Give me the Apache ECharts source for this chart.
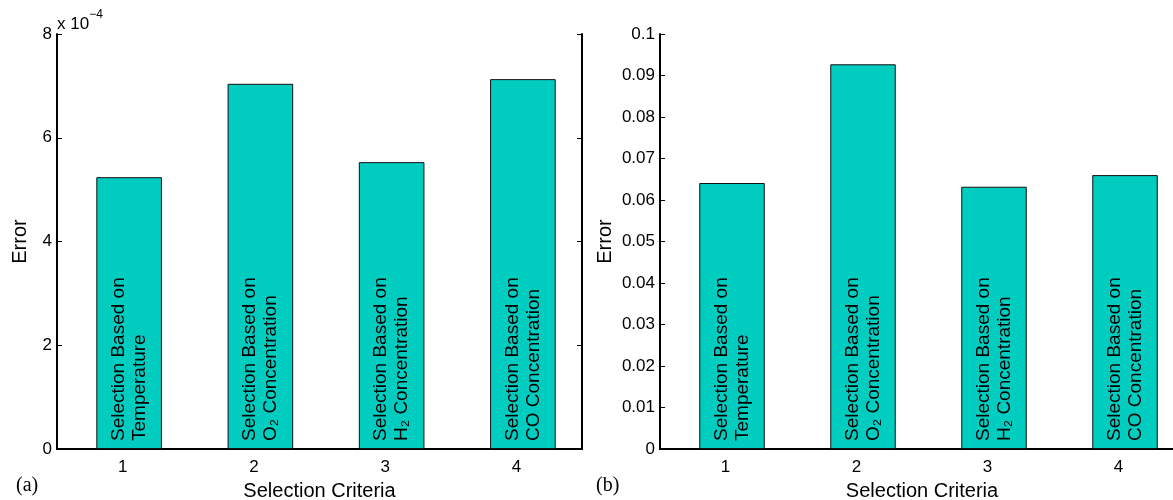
<!DOCTYPE html>
<html>
<head>
<meta charset="utf-8">
<script src="https://cdn.jsdelivr.net/npm/echarts@6/dist/echarts.min.js"></script>
<style>html,body{margin:0;padding:0;background:#fff}#c{width:1173px;height:500px}</style>
</head>
<body>
<div id="c"></div>
<script>
const categories = ['1', '2', '3', '4'];
const barLabels = [
  'Selection Based on\nTemperature',
  'Selection Based on\nO\u2082 Concentration',
  'Selection Based on\nH\u2082 Concentration',
  'Selection Based on\nCO Concentration'
];
const errorA = [5.24e-4, 7.04e-4, 5.53e-4, 7.13e-4];
const errorB = [0.0641, 0.0927, 0.0632, 0.0660];
const yTicksA = [0, 2e-4, 4e-4, 6e-4, 8e-4];
const yTicksB = [0, 0.01, 0.02, 0.03, 0.04, 0.05, 0.06, 0.07, 0.08, 0.09, 0.1];

const FONT = 'Liberation Sans, Arial, sans-serif';
const BAR = '#00ccc0';
const lineStyle = {color: '#000', width: 2};
const tickStyle = {color: '#000', width: 1};

function xAxes(gi) {
  return [
    {
      gridIndex: gi, type: 'category', position: 'bottom', data: categories,
      axisLine: {lineStyle},
      axisTick: {inside: true, alignWithLabel: true, length: 5, lineStyle: tickStyle},
      axisLabel: {color: '#000', fontSize: 17, fontFamily: FONT, margin: 10},
      name: 'Selection Criteria', nameLocation: 'middle', nameGap: 32,
      nameTextStyle: {color: '#000', fontSize: 20, fontFamily: FONT}
    },
    {
      gridIndex: gi, type: 'category', position: 'top', data: categories,
      axisLine: {lineStyle},
      axisTick: {inside: true, alignWithLabel: true, length: 5, lineStyle: tickStyle},
      axisLabel: {show: false}
    }
  ];
}
function yAxes(gi, ticks, fmt, gap) {
  const mn = ticks[0], mx = ticks[ticks.length - 1], iv = ticks[1] - ticks[0];
  return [
    {
      gridIndex: gi, type: 'value', position: 'left', min: mn, max: mx, interval: iv,
      axisLine: {show: true, lineStyle},
      axisTick: {show: true, inside: true, length: 5, lineStyle: tickStyle},
      splitLine: {show: false},
      axisLabel: {color: '#000', fontSize: 17, fontFamily: FONT, margin: 5, formatter: fmt},
      name: 'Error', nameLocation: 'middle', nameGap: gap,
      nameTextStyle: {color: '#000', fontSize: 20, fontFamily: FONT}
    },
    {
      gridIndex: gi, type: 'value', position: 'right', min: mn, max: mx, interval: iv,
      axisLine: {show: true, lineStyle},
      axisTick: {show: true, inside: true, length: 5, lineStyle: tickStyle},
      splitLine: {show: false},
      axisLabel: {show: false}
    }
  ];
}
function hiddenX(gi) {
  return {gridIndex: gi, type: 'category', data: categories, show: false};
}
function hiddenY(gi, ticks) {
  return {gridIndex: gi, type: 'value', min: ticks[0], max: ticks[ticks.length - 1], show: false};
}
function barSeries(xi, yi, data) {
  return {
    type: 'bar', xAxisIndex: xi, yAxisIndex: yi, data: data, barWidth: '50%',
    itemStyle: {color: BAR, borderColor: '#111', borderWidth: 1},
    label: {
      show: true, position: 'insideBottom', distance: 8, rotate: 90,
      align: 'left', verticalAlign: 'middle',
      color: '#000', fontSize: 19, lineHeight: 21, fontFamily: FONT,
      formatter: p => barLabels[p.dataIndex]
    },
    silent: true
  };
}

const chart = echarts.init(document.getElementById('c'), null, {renderer: 'canvas'});
const gridBase = {top: 34, height: 415, outerBoundsMode: 'none', containLabel: false};
chart.setOption({
  animation: false,
  backgroundColor: '#fff',
  grid: [
    Object.assign({left: 57, width: 525}, gridBase),
    Object.assign({left: 660, width: 524}, gridBase),
    Object.assign({left: 63.5, width: 525}, gridBase),
    Object.assign({left: 666.5, width: 524}, gridBase)
  ],
  xAxis: [...xAxes(0), ...xAxes(1), hiddenX(2), hiddenX(3)],
  yAxis: [
    ...yAxes(0, yTicksA, v => String(Math.round(v * 1e4)), 27),
    ...yAxes(1, yTicksB, v => String(Math.round(v * 100) / 100), 45),
    hiddenY(2, yTicksA), hiddenY(3, yTicksB)
  ],
  series: [barSeries(4, 4, errorA), barSeries(5, 5, errorB)],
  graphic: [
    {type: 'text', left: 57, top: 9, style: {
      text: '{n|x 10}{s|\u22124}',
      rich: {
        n: {fontSize: 17, fontFamily: FONT, fill: '#000', verticalAlign: 'bottom', lineHeight: 24},
        s: {fontSize: 12, fontFamily: FONT, fill: '#000', verticalAlign: 'top', lineHeight: 24}
      }
    }},
    {type: 'text', left: 16, top: 476, style: {text: '(a)', fontSize: 20, fontFamily: 'Liberation Serif, Times New Roman, serif', fill: '#000'}},
    {type: 'text', left: 596, top: 476, style: {text: '(b)', fontSize: 20, fontFamily: 'Liberation Serif, Times New Roman, serif', fill: '#000'}}
  ]
});
</script>
</body>
</html>
